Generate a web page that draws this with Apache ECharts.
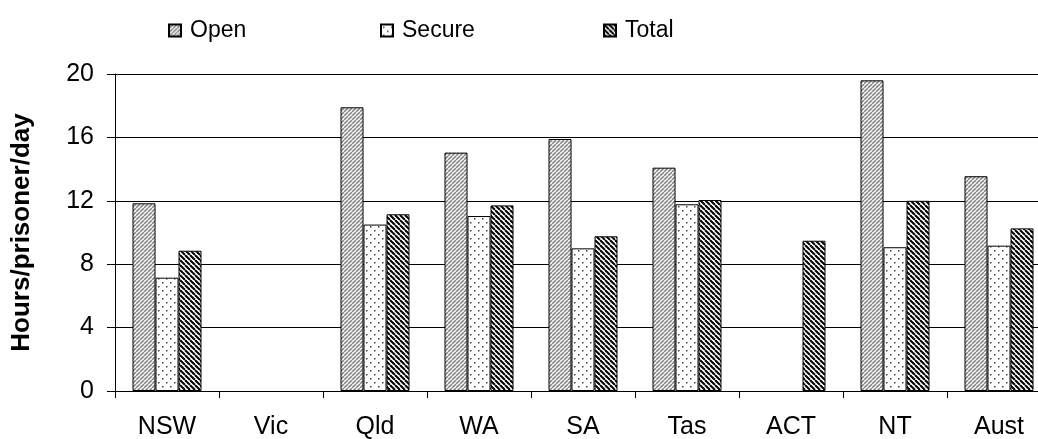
<!DOCTYPE html>
<html><head><meta charset="utf-8">
<script src="https://cdn.jsdelivr.net/npm/echarts@6/dist/echarts.min.js"></script>
<style>html,body{margin:0;padding:0;background:#fff}#c{width:1038px;height:439px}</style>
</head><body><div id="c"></div>
<script>
const categories = ['NSW','Vic','Qld','WA','SA','Tas','ACT','NT','Aust'];
const openVals   = [11.84, null, 17.9, 15.04, 15.9, 14.09, null, 19.6, 13.55];
const secureVals = [7.15, null, 10.5, 11.04, 9.0, 11.78, null, 9.07, 9.17];
const totalVals  = [8.85, null, 11.15, 11.71, 9.76, 12.05, 9.48, 12.0, 10.26];
const yTicks = [0, 4, 8, 12, 16, 20];

function stripeTile(size, color, lw, dir) {
  const c = document.createElement('canvas');
  c.width = size; c.height = size;
  const g = c.getContext('2d');
  g.fillStyle = '#fff'; g.fillRect(0,0,size,size);
  g.strokeStyle = color; g.lineWidth = lw;
  for (let k = -1; k <= 1; k++) {
    g.beginPath();
    if (dir > 0) { g.moveTo(k*size, size); g.lineTo(k*size + size, 0); }
    else { g.moveTo(k*size, 0); g.lineTo(k*size + size, size); }
    g.stroke();
  }
  return c;
}
function dotTile() {
  const c = document.createElement('canvas');
  c.width = 8; c.height = 8;
  const g = c.getContext('2d');
  g.fillStyle = '#fff'; g.fillRect(0,0,8,8);
  g.fillStyle = '#444';
  g.fillRect(2,2,1.5,1.5);
  g.fillRect(6,6,1.5,1.5);
  return c;
}
const openPat = {image: stripeTile(4, '#8a8a8a', 1.6, 1), repeat: 'repeat'};
const securePat = {image: dotTile(), repeat: 'repeat'};
const totalPat = {image: stripeTile(5, '#000', 2.0, -1), repeat: 'repeat'};

const font = 'Liberation Sans, Arial, sans-serif';
const chart = echarts.init(document.getElementById('c'));
function leg(name, left) {
  return {data:[name], left: left, top: 14, itemWidth: 12, itemHeight: 12, itemGap: 0,
    icon: 'rect', textStyle: {fontSize: 23, fontFamily: font, color: '#000', padding:[0,0,0,4]}};
}
chart.setOption({
  animation: false,
  legend: [leg('Open', 163), leg('Secure', 375), leg('Total', 598)],
  grid: {left: 115, top: 74, bottom: 48, width: 936, outerBoundsMode: 'none', containLabel: false},
  xAxis: {
    type: 'category', data: categories,
    axisLine: {lineStyle: {color: '#000', width: 1}},
    axisTick: {show: true, length: 7, lineStyle: {color: '#000'}},
    axisLabel: {fontSize: 25, fontFamily: font, color: '#000', margin: 24, interval: 0}
  },
  yAxis: {
    type: 'value', min: 0, max: 20, interval: 4,
    name: 'Hours/prisoner/day', nameLocation: 'middle', nameGap: 80,
    nameTextStyle: {fontSize: 26, fontWeight: 'bold', fontFamily: font, color: '#000'},
    axisLine: {show: true, lineStyle: {color: '#000'}},
    axisTick: {show: true, length: 8, lineStyle: {color: '#000'}},
    axisLabel: {fontSize: 25, fontFamily: font, color: '#000', margin: 21,
      formatter: v => yTicks.includes(v) ? String(v) : ''},
    splitLine: {lineStyle: {color: '#000', width: 1}}
  },
  series: [
    {name: 'Open', type: 'bar', data: openVals, barWidth: 23, barGap: '0%',
      itemStyle: {color: openPat, borderColor: '#000', borderWidth: 1}},
    {name: 'Secure', type: 'bar', data: secureVals, barWidth: 23, barGap: '0%',
      itemStyle: {color: securePat, borderColor: '#000', borderWidth: 1}},
    {name: 'Total', type: 'bar', data: totalVals, barWidth: 23, barGap: '0%',
      itemStyle: {color: totalPat, borderColor: '#000', borderWidth: 1}}
  ]
});
</script></body></html>
